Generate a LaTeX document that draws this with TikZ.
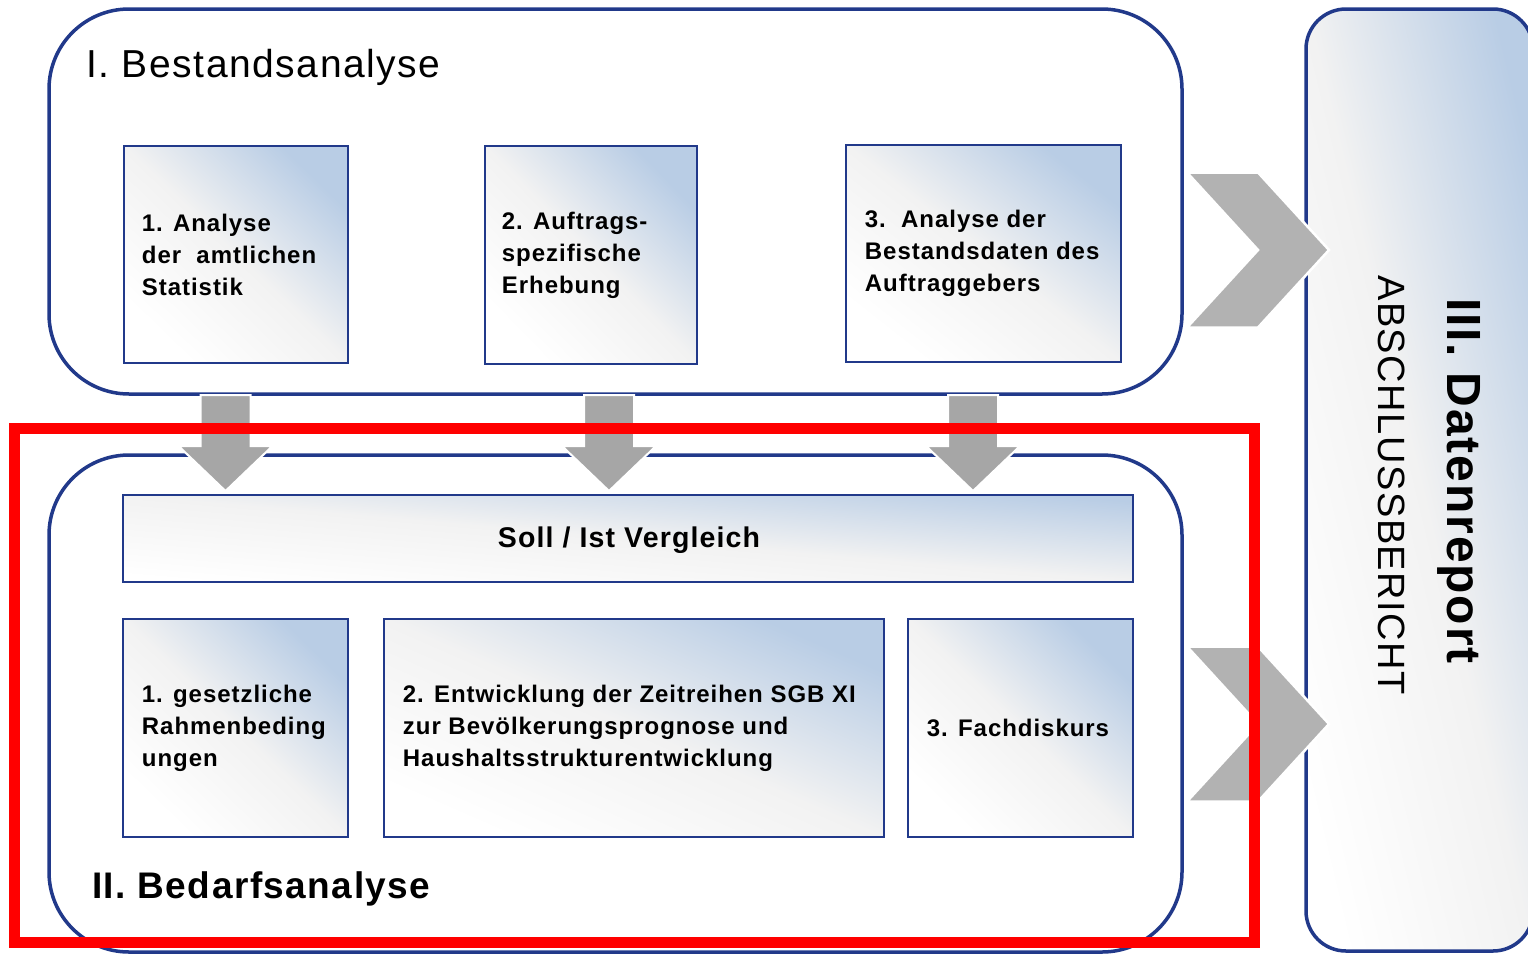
\documentclass[tikz,border=0pt]{standalone}
\usepackage{fontspec}
\setmainfont{Liberation Sans}[LetterSpace=4]
\usetikzlibrary{calc}
\definecolor{frameblue}{RGB}{33,57,138}
\definecolor{lightblue}{RGB}{185,205,229}
\definecolor{lightgray}{RGB}{242,242,242}
\definecolor{arrowgray}{RGB}{166,166,166}
\definecolor{chevgray}{RGB}{178,178,178}
\definecolor{focusred}{RGB}{255,0,0}
\hyphenpenalty=10000
\exhyphenpenalty=10000
\tikzset{
  grad/.style={top color=lightblue, bottom color=white, middle color=lightgray, shading angle=#1},
  stage/.style={draw=frameblue, line width=3.5pt, rounded corners=80pt, inner sep=0pt},
  panelbox/.style={grad=#1, draw=frameblue, line width=3.5pt, rounded corners=40pt, inner sep=0pt},
  taskbox/.style={grad=#1, draw=frameblue, line width=2.5pt, inner sep=0pt},
  tasktext/.style={anchor=west, align=left, inner sep=0pt, font=\fontsize{24}{32}\selectfont\bfseries},
  downarrow/.style={fill=arrowgray, draw=white, line width=2pt},
  chevron/.style={fill=chevgray, draw=white, line width=2.5pt},
  focusframe/.style={draw=focusred, line width=11pt, inner sep=0pt},
}
\begin{document}
\begin{tikzpicture}[x=1pt, y=-1pt]
\useasboundingbox (0,0) rectangle (1528,953);

% stages
\node[stage, minimum width=1133pt, minimum height=385pt] (stageI) at (615.5,201.5) {};
\node[stage, minimum width=1133pt, minimum height=497pt] (stageII) at (615.5,703.5) {};
\node[panelbox=-76.5, minimum width=227pt, minimum height=942pt] (panel) at (1419.5,480) {};

% task boxes
\node[taskbox=-44.1, minimum width=224pt, minimum height=217pt] (a1) at (236,254.5) {};
\node[taskbox=-45.8, minimum width=212pt, minimum height=218pt] (a2) at (591,255) {};
\node[taskbox=-38.3, minimum width=275pt, minimum height=217pt] (a3) at (983.5,253.5) {};
\node[taskbox=-4.9, minimum width=1010pt, minimum height=87pt] (soll) at (628,538.5) {};
\node[taskbox=-44.1, minimum width=225pt, minimum height=218pt] (b1) at (235.5,728) {};
\node[taskbox=-23.6, minimum width=500pt, minimum height=218pt] (b2) at (634,728) {};
\node[taskbox=-44.1, minimum width=225pt, minimum height=218pt] (b3) at (1020.5,728) {};

% chevrons to the report panel
\foreach \cy in {250,724}{
  \path[chevron, shift={(0,\cy)}] (1187,-77.5) -- (1258,-77.5) -- (1329,0) -- (1258,77.5) -- (1187,77.5) -- (1258,0) -- cycle;
}

% down arrows
\foreach \cx in {225.5,609,973}{
  \path[downarrow, shift={(\cx,0)}] (-25,395) -- (25,395) -- (25,446) -- (47,446) -- (0,491) -- (-47,446) -- (-25,446) -- cycle;
}

% red focus frame
\node[focusframe, minimum width=1240pt, minimum height=513.5pt] (focus) at (634.5,685.25) {};

% texts
\node[tasktext] (ta1) at ($(a1.west)+(19,0)$) {1. Analyse\\der~~amtlichen\\Statistik};
\node[tasktext] (ta2) at ($(a2.west)+(18,0)$) {2. Auftrags-\\spezifische\\Erhebung};
\node[tasktext] (ta3) at ($(a3.west)+(20,0)$) {3.~~Analyse der\\Bestandsdaten des\\Auftraggebers};
\node[inner sep=0pt, font=\fontsize{28.5}{34}\selectfont\bfseries] (tsoll) at ($(soll.center)+(1,2)$) {Soll / Ist Vergleich};
\node[tasktext] (tb1) at ($(b1.west)+(20,0)$) {1. gesetzliche\\Rahmenbeding\\ungen};
\node[tasktext] (tb2) at ($(b2.west)+(20,0)$) {2. Entwicklung der Zeitreihen SGB XI\\zur Bevölkerungsprognose und\\Haushaltsstrukturentwicklung};
\node[tasktext] (tb3) at ($(b3.west)+(20,0)$) {3. Fachdiskurs};

\node[anchor=base west, inner sep=0pt, font=\fontsize{39}{45}\selectfont] (titleI) at (86,77) {I. Bestandsanalyse};
\node[anchor=base west, inner sep=0pt, font=\fontsize{37}{43}\selectfont\bfseries] (titleII) at (92,898) {II. Bedarfsanalyse};
\node[anchor=base west, rotate=-90, inner sep=0pt, font=\fontsize{48}{54}\selectfont\bfseries] (titleIII) at (1447,298) {III. Datenreport};
\node[anchor=base west, rotate=-90, inner sep=0pt, font=\fontsize{38}{44}\selectfont] (subIII) at (1378,275) {ABSCHLUSSBERICHT};
\end{tikzpicture}
\end{document}
